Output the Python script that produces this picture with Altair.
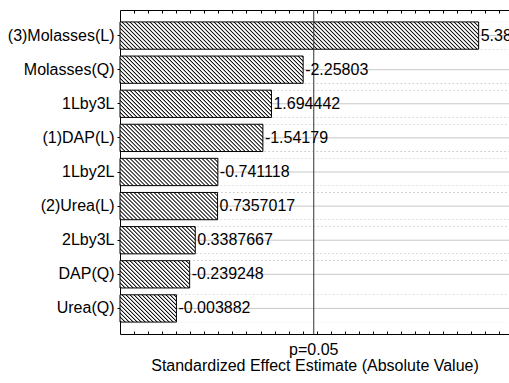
import altair as alt
import numpy as np
import pandas as pd

# ---- data ----
terms = ["(3)Molasses(L)", "Molasses(Q)", "1Lby3L", "(1)DAP(L)", "1Lby2L",
         "(2)Urea(L)", "2Lby3L", "DAP(Q)", "Urea(Q)"]
effects = [5.38, -2.25803, 1.694442, -1.54179, -0.741118,
           0.7357017, 0.3387667, -0.239248, -0.003882]
effect_labels = ["5.38", "-2.25803", "1.694442", "-1.54179", "-0.741118",
                 "0.7357017", "0.3387667", "-0.239248", "-0.003882"]
p_critical = 2.446912
p_label = "p=0.05"
x_title = "Standardized Effect Estimate (Absolute Value)"
x_domain = [-1, 5.92]
tick_values = list(np.arange(-0.75, 5.9, 0.25))

df = pd.DataFrame({"term": terms, "effect": effects, "label": effect_labels})
df["abs_effect"] = df["effect"].abs()
pdf = pd.DataFrame({"p": [p_critical], "label": [p_label]})

# ---- style ----
W, H = 389, 324
FONT = "Liberation Sans"
FS = 16
INK = "#141414"
PAD_INNER, PAD_OUTER = 0.2, 0.35

# hatch: each row's background is split into tiles (28 px wide), each filled
# with a striped linear gradient laid out at 45 degrees in the tile's box
TILE_PX = 28.0
PERIOD_PX = 4.0
PLATEAU_PX = 0.4
span = x_domain[1] - x_domain[0]
n_tiles = int(np.ceil(W / TILE_PX))
tile_data = TILE_PX * span / W
tiles = pd.DataFrame([
    {"term": t, "t0": x_domain[0] + k * tile_data, "t1": x_domain[0] + (k + 1) * tile_data}
    for t in terms for k in range(n_tiles)])

step = H / (len(terms) - PAD_INNER + 2 * PAD_OUTER)
tile_h = step * (1 - PAD_INNER)
tile_w = TILE_PX
kk = (tile_w + tile_h) / (tile_w ** 2 + tile_h ** 2)
tot = tile_w + tile_h
stops = []
u = 0.0
while u < tot:
    for off, col in [(0.0, "white"), (1.0, INK), (1.0 + PLATEAU_PX, INK),
                     (2.0 + PLATEAU_PX, "white")]:
        o = min((u + off) / tot, 1.0)
        stops.append({"offset": round(o, 6), "color": col})
    u += PERIOD_PX
stops.append({"offset": 1.0, "color": "white"})
hatch_fill = {"gradient": "linear", "x1": 0, "y1": 1,
              "x2": round(tile_w * kk, 6), "y2": round(1 - tile_h * kk, 6),
              "stops": stops}

xscale = alt.Scale(domain=x_domain, nice=False, zero=False)
yscale = alt.Scale(domain=terms, paddingInner=PAD_INNER, paddingOuter=PAD_OUTER)

yaxis = alt.Axis(orient="left", domainColor="black", tickColor="black", tickSize=3,
                 labelPadding=3, labelFont=FONT, labelFontSize=FS, labelColor="black",
                 grid=False, bandPosition=0.5, title=None)

def Y(**kw):
    return alt.Y("term:N", sort=terms, scale=yscale, axis=yaxis, title=None, **kw)

bottom_axis = alt.Axis(orient="bottom", values=tick_values, labels=False,
                       tickSize=alt.ExprRef("-3"), tickColor="black", domainColor="black",
                       grid=False, title=x_title, titleFont=FONT, titleFontSize=FS,
                       titleFontWeight="normal", titleColor="black", titleY=36,
                       titleBaseline="alphabetic")
top_axis = alt.Axis(orient="top", values=tick_values, labels=False,
                    tickSize=alt.ExprRef("-3"), tickColor="black", domainColor="black",
                    grid=False, title=None)

base = alt.Chart(df)

hatch = alt.Chart(tiles).mark_bar(fill=hatch_fill, strokeWidth=0).encode(
    x=alt.X("t0:Q", scale=xscale, axis=None), x2="t1:Q", y=Y())

cover = base.mark_bar(color="white", strokeWidth=0).encode(
    x=alt.X("abs_effect:Q", scale=xscale, axis=bottom_axis),
    x2=alt.X2(datum=x_domain[1]), y=Y())

grid = base.mark_rule(color="#c8c8c8", strokeWidth=1).encode(
    x=alt.X("abs_effect:Q", scale=xscale, axis=None),
    x2=alt.X2(datum=x_domain[1]), y=Y(bandPosition=0.5))

outline = base.mark_bar(filled=False, color="black", strokeWidth=1).encode(
    x=alt.X("abs_effect:Q", scale=xscale, axis=top_axis),
    x2=alt.X2(datum=x_domain[0]), y=Y())

pline = alt.Chart(pdf).mark_rule(color="#333333", strokeWidth=1).encode(
    x=alt.X("p:Q", scale=xscale, axis=None))

texts = base.mark_text(align="left", baseline="middle", dx=2, font=FONT,
                       fontSize=FS, color="black").encode(
    x=alt.X("abs_effect:Q", scale=xscale, axis=None),
    y=Y(bandPosition=0.5), text="label:N")

plabel = alt.Chart(pdf).mark_text(align="center", baseline="alphabetic", dy=21, font=FONT,
                                  fontSize=FS, color="black").encode(
    x=alt.X("p:Q", scale=xscale, axis=None),
    y=alt.value("height"), text="label:N")

chart = alt.layer(hatch, cover, grid, outline, pline, texts, plabel).resolve_axis(
    x="independent").properties(
    width=W, height=H,
    autosize=alt.AutoSizeParams(type="none"),
    padding={"left": 120, "top": 10, "right": 0, "bottom": 49},
    background="white",
).configure_view(strokeWidth=0)

chart.save("out.html", embed_options={"renderer": "svg", "actions": False})
